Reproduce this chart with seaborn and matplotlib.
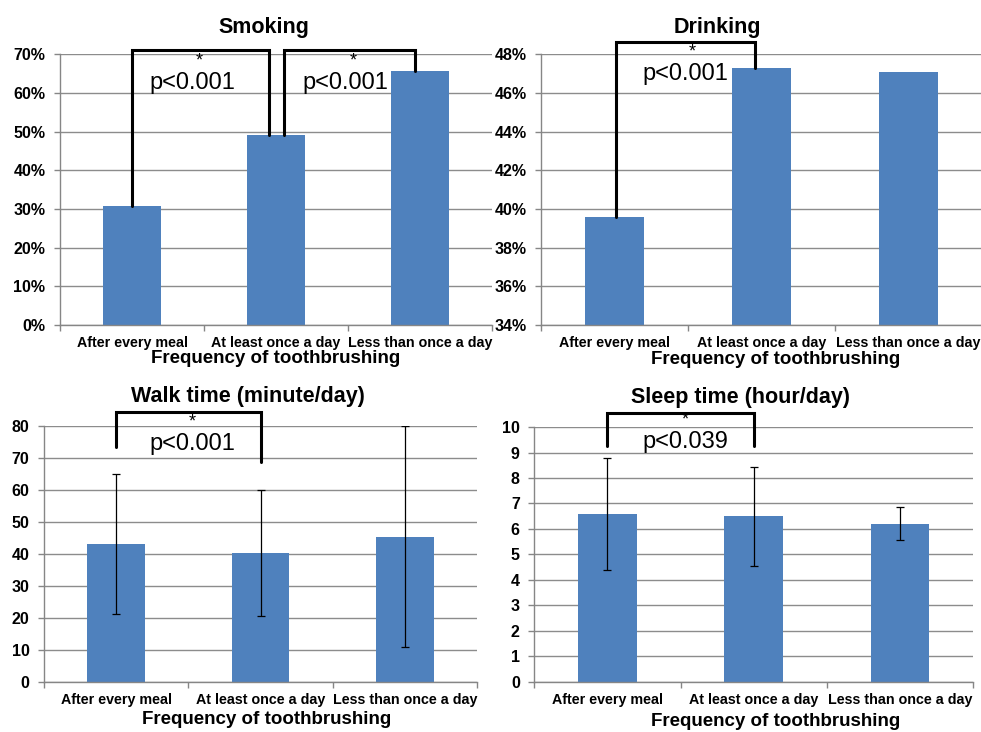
import matplotlib
matplotlib.use("Agg")
import matplotlib.pyplot as plt
import seaborn as sns
import pandas as pd
import numpy as np

sns.set_style("white")
plt.rcParams['font.family'] = ['Liberation Sans', 'DejaVu Sans']
plt.rcParams['text.color'] = 'black'
plt.rcParams['axes.labelcolor'] = 'black'
plt.rcParams['xtick.color'] = 'black'
plt.rcParams['ytick.color'] = 'black'

categories = ["After every meal", "At least once a day", "Less than once a day"]

smoking = [30.8, 49.0, 65.6]
drinking = [39.6, 47.3, 47.1]
walk = [43.1, 40.4, 45.4]
walk_err = [22.0, 19.7, 34.6]
sleep = [6.6, 6.5, 6.2]
sleep_err = [2.2, 1.95, 0.65]

titles = ["Smoking", "Drinking", "Walk time (minute/day)", "Sleep time (hour/day)"]
xlabel = "Frequency of toothbrushing"

BAR = "#4F81BD"
GRID = "#8C8C8C"

fig = plt.figure(figsize=(9.81, 7.32), dpi=100)

rects = [
    [0.0612, 0.556, 0.4404, 0.370],
    [0.5515, 0.556, 0.4495, 0.370],
    [0.0449, 0.0683, 0.4414, 0.350],
    [0.5447, 0.0687, 0.4472, 0.3479],
]
title_x = [0.472, 0.401, 0.471, 0.469]
title_pad = [15, 15, 17, 17]
xlab_pos = [(0.50, -0.122), (0.531, -0.128), (0.514, -0.148), (0.549, -0.157)]

ylims = [(0, 70), (34, 48), (0, 80), (0, 10)]
yticks = [np.arange(0, 71, 10), np.arange(34, 49, 2), np.arange(0, 81, 10), np.arange(0, 11, 1)]
pct = [True, True, False, False]
datasets = [smoking, drinking, walk, sleep]
errs = [None, None, walk_err, sleep_err]

axes = []
for i in range(4):
    ax = fig.add_axes(rects[i])
    df = pd.DataFrame({"cat": categories, "val": datasets[i]})
    sns.barplot(data=df, x="cat", y="val", order=categories, color=BAR,
                saturation=1, width=0.4, errorbar=None, linewidth=0, ax=ax, zorder=2)
    if errs[i] is not None:
        ax.errorbar(np.arange(3), datasets[i], yerr=errs[i], fmt='none',
                    ecolor='black', elinewidth=0.9, capsize=2.8, capthick=0.9, zorder=3)
    ax.set_xlim(-0.5, 2.5)
    ax.set_ylim(*ylims[i])
    ax.set_yticks(yticks[i])
    if pct[i]:
        ax.set_yticklabels([f"{int(t)}%" for t in yticks[i]])
    else:
        ax.set_yticklabels([f"{int(t)}" for t in yticks[i]])
    ax.set_axisbelow(True)
    ax.yaxis.grid(True, color=GRID, lw=1.0)
    ax.xaxis.grid(False)
    for s in ["top", "right"]:
        ax.spines[s].set_visible(False)
    for s in ["left", "bottom"]:
        ax.spines[s].set_color("#868686")
        ax.spines[s].set_linewidth(1.0)
    ax.tick_params(axis='y', which='major', length=4.5, width=1, color="#868686",
                   left=True, pad=6, labelsize=11.5)
    for lab in ax.get_yticklabels():
        lab.set_fontweight('bold')
    ax.set_xticks([-0.5, 0.5, 1.5, 2.5], minor=True)
    ax.tick_params(axis='x', which='minor', length=4, width=1, color="#868686", bottom=True)
    ax.tick_params(axis='x', which='major', length=0, pad=8, labelsize=10.3)
    for lab in ax.get_xticklabels():
        lab.set_fontweight('bold')
    ax.set_title(titles[i], fontsize=15.5, fontweight='bold', x=title_x[i], pad=title_pad[i])
    ax.set_xlabel(xlabel, fontsize=13.5, fontweight='bold', va='center')
    ax.xaxis.set_label_coords(*xlab_pos[i])
    ax.set_ylabel("")
    axes.append(ax)

def bracket(ax, x0, x1, ytop, y0, y1, lw=2.2):
    ax.plot([x0, x0, x1, x1], [y0, ytop, ytop, y1], color='black', lw=lw,
            clip_on=False, zorder=4, solid_joinstyle='miter')

def label(ax, xs, xp, yp, text):
    ax.text(xp, yp, text, ha='center', va='center', fontsize=17, zorder=5, clip_on=False)
    ax.annotate("*", xy=(xs, yp), xytext=(0, 9.8), textcoords='offset points',
                ha='center', va='bottom', fontsize=13, zorder=5, annotation_clip=False)

# Smoking
ax = axes[0]
bracket(ax, 0, 0.95, 71.0, smoking[0], smoking[1])
bracket(ax, 1.056, 1.965, 71.0, smoking[1], smoking[2])
label(ax, 0.465, 0.417, 62.5, "p<0.001")
label(ax, 1.533, 1.479, 62.5, "p<0.001")

# Drinking
ax = axes[1]
bracket(ax, 0.01, 0.956, 48.62, drinking[0], drinking[1])
label(ax, 0.527, 0.48, 46.95, "p<0.001")

# Walk
ax = axes[2]
bracket(ax, 0, 1.0, 84.2, 73.4, 68.6)
label(ax, 0.524, 0.526, 74.3, "p<0.001")

# Sleep
ax = axes[3]
bracket(ax, 0, 1.0, 10.57, 9.24, 9.24)
label(ax, 0.53, 0.53, 9.4, "p<0.039")

fig.savefig("out.png", dpi=100)
